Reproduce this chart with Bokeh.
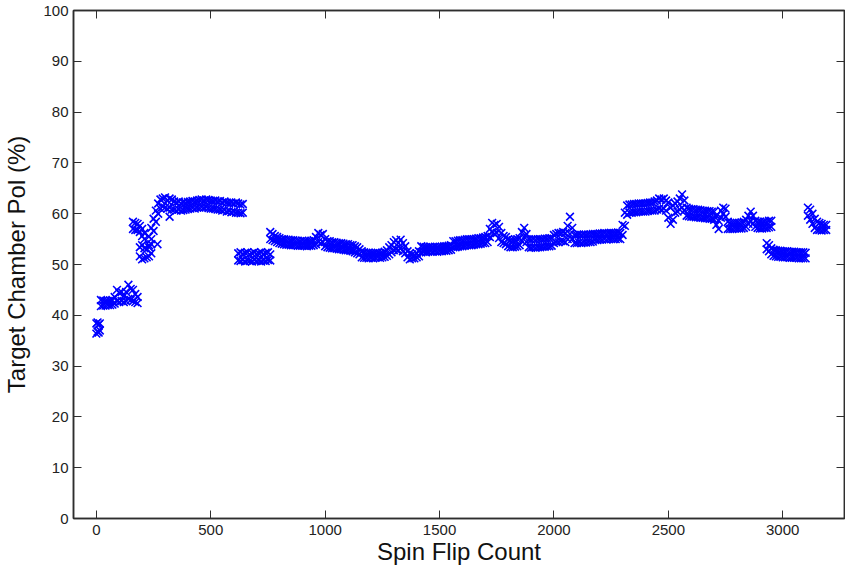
from bokeh.plotting import figure
from bokeh.models import Range1d, LinearAxis, FixedTicker, CustomJSTickFormatter
from bokeh.embed import file_html
from bokeh.resources import INLINE

# ---- data: spin flip count vs target chamber polarisation (%) ----
# each run segment: x positions, upper-edge readings (hi) and lower-edge readings (lo) of the band
seg_a_x = [0, 5, 10, 15]
seg_a_hi = [38.4, 38.6, 38.2, 38.4]
seg_a_lo = [36.4, 36.8, 36.6, 37.0]

seg_b_x = list(range(20, 190, 10))
seg_b_hi = [43.0, 42.9, 42.8, 42.8, 42.9, 43.0, 43.6, 45.0, 44.4, 44.6, 43.8, 44.6, 46.0, 45.2, 45.0, 44.2, 43.6]
seg_b_lo = [41.8, 41.9, 41.9, 42.0, 42.0, 42.1, 42.3, 42.8, 42.6, 42.8, 42.6, 42.8, 43.2, 43.0, 42.8, 42.6, 42.4]

seg_c_x = list(range(160, 220, 10))
seg_c_hi = [58.4, 58.2, 58.0, 57.6, 57.0, 56.2]
seg_c_lo = [57.0, 56.8, 56.8, 56.4, 55.6, 55.0]

seg_d_x = list(range(190, 250, 10))
seg_d_hi = [53.4, 53.8, 53.2, 53.0, 53.4, 54.0]
seg_d_lo = [51.6, 51.0, 51.2, 51.4, 51.6, 52.2]

seg_e_x = list(range(230, 290, 10))
seg_e_hi = [55.5, 57.2, 59.0, 60.6, 62.0, 62.8]
seg_e_lo = [53.8, 55.0, 56.6, 58.4, 60.0, 61.0]

seg_f_x = list(range(290, 650, 10))
seg_f_hi = [63.0, 63.2, 62.6, 63.0, 62.8, 62.4, 62.2, 62.4, 62.0, 62.2,
            62.1, 62.3, 62.4, 62.5, 62.4, 62.6, 62.7, 62.8, 62.6, 62.8,
            62.7, 62.6, 62.5, 62.6, 62.4, 62.5, 62.2, 62.4, 62.2, 62.1,
            62.2, 62.0, 62.2, 62.0, 61.8, 61.9]
seg_f_lo = [61.4, 61.2, 61.0, 61.2, 60.8, 60.8, 60.6, 60.8, 60.6, 60.7,
            60.8, 60.9, 61.0, 61.1, 61.0, 61.2, 61.2, 61.3, 61.2, 61.3,
            61.1, 61.0, 61.0, 60.9, 60.8, 60.8, 60.6, 60.7, 60.4, 60.5,
            60.3, 60.4, 60.2, 60.2, 60.1, 60.2]

seg_g_x = list(range(620, 770, 10))
seg_g_hi = [52.2, 52.4, 52.1, 52.3, 52.4, 52.0, 52.2, 52.4, 52.1, 52.2, 52.4, 52.1, 52.3, 52.4, 52.0]
seg_g_lo = [50.8, 50.7, 50.9, 50.6, 50.8, 50.7, 50.6, 50.9, 50.7, 50.8, 50.6, 50.8, 50.7, 50.9, 50.8]

seg_h_x = list(range(760, 1160, 10))
seg_h_hi = [56.4, 56.0, 55.6, 55.4, 55.2, 55.0, 55.0, 54.9, 54.9, 54.8,
            54.8, 54.7, 54.7, 54.6, 54.7, 54.6, 54.6, 54.6, 54.7, 54.8,
            55.4, 56.2, 55.8, 56.0, 55.0, 54.6, 54.6, 54.4, 54.4, 54.3,
            54.2, 54.2, 54.1, 54.0, 54.0, 53.8, 53.8, 53.6, 53.4, 53.0]
seg_h_lo = [55.0, 54.8, 54.6, 54.4, 54.2, 54.1, 54.0, 53.9, 53.9, 53.8,
            53.8, 53.8, 53.7, 53.7, 53.7, 53.7, 53.6, 53.7, 53.7, 53.8,
            54.0, 54.4, 54.2, 54.4, 53.6, 53.4, 53.3, 53.2, 53.2, 53.1,
            53.0, 53.0, 52.9, 52.8, 52.8, 52.7, 52.6, 52.4, 52.2, 52.0]

seg_i_x = list(range(1160, 1280, 10))
seg_i_hi = [52.6, 52.4, 52.3, 52.3, 52.2, 52.2, 52.3, 52.3, 52.2, 52.3, 52.5, 52.8]
seg_i_lo = [51.4, 51.3, 51.3, 51.2, 51.3, 51.2, 51.3, 51.4, 51.3, 51.4, 51.5, 51.7]

seg_j_x = list(range(1280, 1360, 10))
seg_j_hi = [53.4, 53.8, 54.4, 54.8, 54.2, 54.9, 54.2, 53.6]
seg_j_lo = [52.0, 52.4, 52.8, 53.0, 52.8, 53.2, 52.6, 52.2]

seg_k_x = list(range(1360, 1420, 10))
seg_k_hi = [52.6, 52.2, 52.0, 51.9, 52.2, 52.6]
seg_k_lo = [51.4, 51.0, 51.2, 51.2, 51.4, 51.6]

seg_l_x = list(range(1420, 1560, 10))
seg_l_hi = [53.6, 53.5, 53.4, 53.4, 53.5, 53.4, 53.5, 53.4, 53.5, 53.5, 53.6, 53.6, 53.7, 53.8]
seg_l_lo = [52.4, 52.5, 52.4, 52.5, 52.6, 52.5, 52.6, 52.5, 52.6, 52.6, 52.7, 52.7, 52.8, 52.9]

seg_m_x = list(range(1560, 1720, 10))
seg_m_hi = [54.6, 54.6, 54.7, 54.8, 54.8, 54.9, 55.0, 55.0, 55.0, 55.0, 55.1, 55.2, 55.2, 55.3, 55.4, 55.6]
seg_m_lo = [53.4, 53.4, 53.5, 53.6, 53.6, 53.7, 53.8, 53.8, 53.8, 53.9, 54.0, 54.0, 54.1, 54.2, 54.2, 54.4]

seg_n_x = list(range(1720, 1800, 10))
seg_n_hi = [57.0, 58.2, 57.8, 58.0, 57.4, 56.2, 55.6, 55.4]
seg_n_lo = [55.4, 56.4, 56.0, 56.2, 55.2, 54.4, 54.2, 54.0]

seg_o_x = list(range(1800, 1860, 10))
seg_o_hi = [55.0, 54.8, 54.8, 54.9, 55.0, 55.2]
seg_o_lo = [53.6, 53.4, 53.4, 53.5, 53.6, 53.8]

seg_p_x = list(range(1860, 1890, 10))
seg_p_hi = [56.4, 57.2, 56.0]
seg_p_lo = [54.6, 55.4, 54.4]

seg_q_x = list(range(1890, 2000, 10))
seg_q_hi = [55.0, 54.9, 55.0, 54.9, 55.0, 55.0, 55.0, 55.1, 55.1, 55.2, 55.2]
seg_q_lo = [53.4, 53.3, 53.4, 53.3, 53.4, 53.4, 53.5, 53.5, 53.6, 53.6, 53.7]

seg_r_x = list(range(2000, 2090, 10))
seg_r_hi = [55.8, 56.0, 56.2, 56.2, 56.4, 56.2, 57.6, 59.4, 57.2]
seg_r_lo = [54.2, 54.4, 54.4, 54.6, 54.6, 54.4, 55.0, 56.0, 55.0]

seg_s_x = list(range(2090, 2180, 10))
seg_s_hi = [55.8, 55.8, 55.9, 55.8, 55.9, 55.8, 55.9, 55.9, 56.0]
seg_s_lo = [54.2, 54.2, 54.3, 54.2, 54.3, 54.3, 54.4, 54.4, 54.5]

seg_t_x = list(range(2180, 2300, 10))
seg_t_hi = [56.0, 56.0, 56.1, 56.1, 56.2, 56.1, 56.2, 56.2, 56.2, 56.2, 56.3, 56.2]
seg_t_lo = [54.8, 54.8, 54.9, 54.9, 55.0, 54.9, 55.0, 55.0, 55.0, 55.0, 55.1, 55.0]

seg_u_x = list(range(2300, 2580, 10))
seg_u_hi = [57.8, 60.2, 61.6, 61.8, 61.8, 61.9, 61.9, 62.0, 62.0, 62.0,
            62.0, 62.1, 62.2, 62.2, 62.4, 62.6, 63.0, 62.8, 63.0, 62.6,
            62.2, 61.2, 61.6, 62.0, 62.4, 63.0, 63.8, 62.6]
seg_u_lo = [55.8, 57.6, 59.8, 60.2, 60.2, 60.3, 60.3, 60.4, 60.4, 60.4,
            60.4, 60.5, 60.6, 60.6, 60.6, 60.8, 61.0, 60.8, 61.0, 60.6,
            59.2, 58.0, 58.8, 60.2, 60.4, 60.8, 61.2, 60.6]

seg_v_x = list(range(2580, 2760, 10))
seg_v_hi = [61.2, 61.0, 60.9, 60.9, 60.8, 60.8, 60.7, 60.6, 60.6, 60.5,
            60.5, 60.4, 60.4, 59.6, 58.6, 60.6, 61.2, 61.0]
seg_v_lo = [59.6, 59.5, 59.4, 59.4, 59.3, 59.3, 59.2, 59.2, 59.1, 59.1,
            59.0, 59.0, 58.8, 57.8, 57.0, 59.2, 60.0, 59.4]

seg_w_x = list(range(2760, 2960, 10))
seg_w_hi = [58.4, 58.2, 58.2, 58.2, 58.2, 58.2, 58.3, 58.4, 58.8, 59.6,
            60.4, 59.6, 58.6, 58.4, 58.4, 58.3, 58.4, 58.4, 58.6, 58.6]
seg_w_lo = [57.0, 57.0, 57.0, 57.1, 57.1, 57.1, 57.1, 57.2, 57.4, 58.0,
            58.6, 58.0, 57.4, 57.2, 57.1, 57.1, 57.2, 57.2, 57.3, 57.4]

seg_x_x = list(range(2930, 3110, 10))
seg_x_hi = [54.2, 53.8, 53.2, 52.9, 52.8, 52.7, 52.7, 52.6, 52.6, 52.6,
            52.5, 52.5, 52.5, 52.4, 52.4, 52.4, 52.4, 52.3]
seg_x_lo = [53.0, 52.6, 52.0, 51.7, 51.6, 51.5, 51.5, 51.4, 51.4, 51.4,
            51.3, 51.3, 51.3, 51.3, 51.2, 51.2, 51.2, 51.2]

seg_y_x = list(range(3110, 3200, 10))
seg_y_hi = [61.2, 60.8, 60.0, 59.0, 58.4, 58.2, 58.0, 57.8, 57.8]
seg_y_lo = [59.6, 58.8, 58.0, 57.2, 56.8, 56.8, 56.7, 56.8, 56.8]

stray_x = [267, 320]
stray_y = [54.0, 59.4]

x_ticks = [0, 500, 1000, 1500, 2000, 2500, 3000]
y_ticks = [0, 10, 20, 30, 40, 50, 60, 70, 80, 90, 100]

segments = [
    (seg_a_x, seg_a_hi, seg_a_lo), (seg_b_x, seg_b_hi, seg_b_lo), (seg_c_x, seg_c_hi, seg_c_lo),
    (seg_d_x, seg_d_hi, seg_d_lo), (seg_e_x, seg_e_hi, seg_e_lo), (seg_f_x, seg_f_hi, seg_f_lo),
    (seg_g_x, seg_g_hi, seg_g_lo), (seg_h_x, seg_h_hi, seg_h_lo), (seg_i_x, seg_i_hi, seg_i_lo),
    (seg_j_x, seg_j_hi, seg_j_lo), (seg_k_x, seg_k_hi, seg_k_lo), (seg_l_x, seg_l_hi, seg_l_lo),
    (seg_m_x, seg_m_hi, seg_m_lo), (seg_n_x, seg_n_hi, seg_n_lo), (seg_o_x, seg_o_hi, seg_o_lo),
    (seg_p_x, seg_p_hi, seg_p_lo), (seg_q_x, seg_q_hi, seg_q_lo), (seg_r_x, seg_r_hi, seg_r_lo),
    (seg_s_x, seg_s_hi, seg_s_lo), (seg_t_x, seg_t_hi, seg_t_lo), (seg_u_x, seg_u_hi, seg_u_lo),
    (seg_v_x, seg_v_hi, seg_v_lo), (seg_w_x, seg_w_hi, seg_w_lo), (seg_x_x, seg_x_hi, seg_x_lo),
    (seg_y_x, seg_y_hi, seg_y_lo),
]
xs, ys = [], []
for sx, shi, slo in segments:
    assert len(sx) == len(shi) == len(slo)
    xs += sx + sx
    ys += shi + slo
xs += stray_x
ys += stray_y

FONT = "Liberation Sans"
AX_COLOR = "#2e2e2e"

p = figure(width=845, height=569, x_range=Range1d(-100, 3270), y_range=Range1d(0, 100),
           output_backend="svg", toolbar_location=None,
           min_border_left=73, min_border_right=1, min_border_top=10, min_border_bottom=51)
p.grid.visible = False
p.outline_line_color = AX_COLOR
p.outline_line_width = 1.5
p.background_fill_color = "white"
p.border_fill_color = "white"

p.scatter(xs, ys, marker="x", size=11, line_color="#0000ff", line_width=1.6)


def style(ax, labels=True):
    ax.axis_line_color = AX_COLOR
    ax.axis_line_width = 1.5
    ax.major_tick_line_color = AX_COLOR
    ax.major_tick_line_width = 1
    ax.major_tick_in = 8
    ax.major_tick_out = 0
    ax.minor_tick_line_color = None
    ax.major_label_text_font = FONT
    ax.major_label_text_color = "#222222"
    ax.major_label_text_font_size = "15px"
    if not labels:
        ax.formatter = CustomJSTickFormatter(code="return '';")
        ax.major_label_text_font_size = "0px"
        ax.major_label_standoff = 0


xa = p.xaxis[0]
xa.ticker = FixedTicker(ticks=x_ticks)
style(xa)
xa.major_label_standoff = 6
xa.axis_label = "Spin Flip Count"
xa.axis_label_text_font = FONT
xa.axis_label_text_font_style = "normal"
xa.axis_label_text_font_size = "24px"
xa.axis_label_text_color = "#111111"
xa.axis_label_standoff = 0

ya = p.yaxis[0]
ya.ticker = FixedTicker(ticks=y_ticks)
style(ya)
ya.major_label_standoff = 5
ya.axis_label = "Target Chamber Pol (%)"
ya.axis_label_text_font = FONT
ya.axis_label_text_font_style = "normal"
ya.axis_label_text_font_size = "24px"
ya.axis_label_text_color = "#111111"
ya.axis_label_standoff = 10

top = LinearAxis(ticker=FixedTicker(ticks=x_ticks))
style(top, labels=False)
p.add_layout(top, "above")
right = LinearAxis(ticker=FixedTicker(ticks=y_ticks))
style(right, labels=False)
p.add_layout(right, "right")

open("out.html", "w").write(file_html(p, INLINE))
